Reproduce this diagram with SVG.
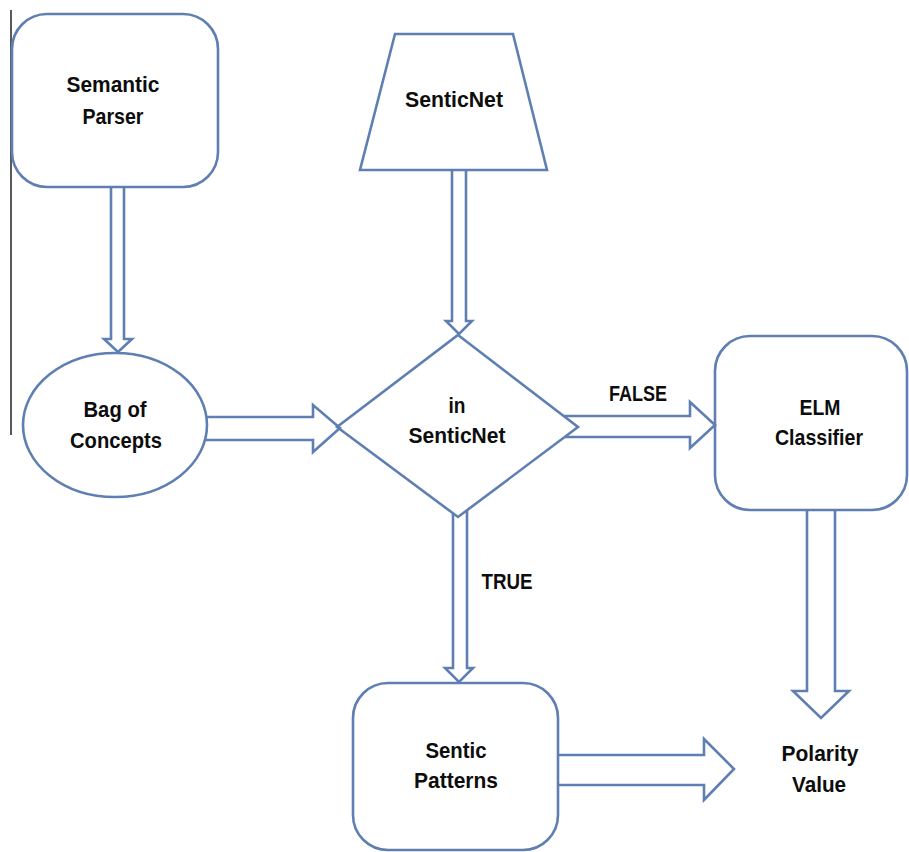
<svg xmlns="http://www.w3.org/2000/svg" width="909" height="852" viewBox="0 0 909 852">
  <style>
    .shape { fill: #ffffff; stroke: #5f7fb3; stroke-width: 2.6; }
    .arrow { fill: none; stroke: #5f7fb3; stroke-width: 2.6; stroke-linejoin: miter; }
    .label { font-family: "Liberation Sans", Arial, sans-serif; font-weight: bold; font-size: 22px; fill: #0d0d0d; text-anchor: middle; }
  </style>
  <rect width="909" height="852" fill="#ffffff"/>

  <!-- margin rule on the left -->
  <line x1="11" y1="10" x2="11" y2="435" stroke="#222222" stroke-width="1.5"/>

  <g id="node-semantic-parser">
    <rect class="shape" x="12" y="14" width="206" height="173" rx="35" ry="35"/>
    <text class="label" x="113" y="92" textLength="93" lengthAdjust="spacingAndGlyphs">Semantic</text>
    <text class="label" x="113" y="124" textLength="61" lengthAdjust="spacingAndGlyphs">Parser</text>
  </g>

  <g id="node-senticnet">
    <polygon class="shape" points="395,34 513,34 547,170 360,170"/>
    <text class="label" x="454" y="107" textLength="98" lengthAdjust="spacingAndGlyphs">SenticNet</text>
  </g>

  <g id="node-bag-of-concepts">
    <ellipse class="shape" cx="115" cy="425" rx="92" ry="72"/>
    <text class="label" x="115" y="417" textLength="63" lengthAdjust="spacingAndGlyphs">Bag of</text>
    <text class="label" x="116" y="448" textLength="92" lengthAdjust="spacingAndGlyphs">Concepts</text>
  </g>

  <g id="node-in-senticnet">
    <polygon class="shape" points="458,335 578,427 458,517 337,427"/>
    <text class="label" x="457" y="413" textLength="17" lengthAdjust="spacingAndGlyphs">in</text>
    <text class="label" x="457" y="443" textLength="97" lengthAdjust="spacingAndGlyphs">SenticNet</text>
  </g>

  <g id="node-elm-classifier">
    <rect class="shape" x="715" y="336" width="192" height="174" rx="35" ry="35"/>
    <text class="label" x="820" y="415" textLength="41" lengthAdjust="spacingAndGlyphs">ELM</text>
    <text class="label" x="819" y="445" textLength="88" lengthAdjust="spacingAndGlyphs">Classifier</text>
  </g>

  <g id="node-sentic-patterns">
    <rect class="shape" x="353" y="683" width="205" height="167" rx="35" ry="35"/>
    <text class="label" x="456" y="758" textLength="61" lengthAdjust="spacingAndGlyphs">Sentic</text>
    <text class="label" x="456" y="788" textLength="84" lengthAdjust="spacingAndGlyphs">Patterns</text>
  </g>

  <g id="node-polarity-value">
    <text class="label" x="820" y="761" textLength="77" lengthAdjust="spacingAndGlyphs">Polarity</text>
    <text class="label" x="819" y="792" textLength="54" lengthAdjust="spacingAndGlyphs">Value</text>
  </g>

  <!-- block arrows between the steps -->
  <g id="connectors">
    <path class="arrow" d="M111,187 V339 H104 L118,352 L132,339 H124 V187"/>
    <path class="arrow" d="M452,170 V321 H446 L459,334 L472,321 H466 V170"/>
    <path class="arrow" d="M206,417 H313 V405 L340,428 L313,452 V440 H206"/>
    <path class="arrow" d="M564,416 H690 V402 L715,425 L690,448 V437 H565"/>
    <path class="arrow" d="M453,513 V668 H445 L459,682 L473,668 H467 V510"/>
    <path class="arrow" d="M807,510 V691 H793 L821,718 L849,691 H835 V510"/>
    <path class="arrow" d="M558,755 H704 V739 L734,769 L704,800 V785 H558"/>
    <text class="label" x="638" y="401" textLength="58" lengthAdjust="spacingAndGlyphs">FALSE</text>
    <text class="label" x="507" y="589" textLength="51" lengthAdjust="spacingAndGlyphs">TRUE</text>
  </g>
</svg>
